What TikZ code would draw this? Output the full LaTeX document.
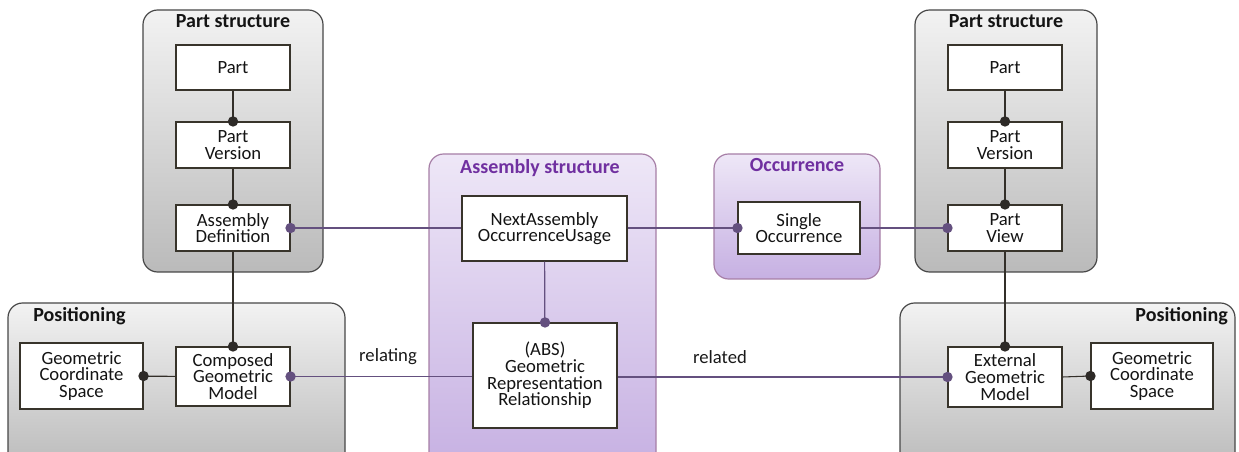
\documentclass[tikz,border=0pt]{standalone}
\usepackage{fontspec}
\setmainfont{Carlito}
\begin{document}
\begin{tikzpicture}[x=0.75pt,y=-0.75pt,
  grayc/.style={draw=black!72, line width=0.9pt, rounded corners=11pt, top color=black!5, bottom color=black!27},
  purpc/.style={draw=violet!45!gray!70, line width=0.9pt, rounded corners=11pt, top color=purpleA, bottom color=purpleB},
  bx/.style={draw=black!80!olive, line width=0.8pt, fill=white, inner sep=0pt, align=center, text=black!92,
    font=\fontsize{14}{12.5}\selectfont},
  ttl/.style={font=\fontsize{15}{15}\bfseries\selectfont, text=black!92, inner sep=0pt},
  pttl/.style={font=\fontsize{15}{15}\bfseries\selectfont, text=titlepurple, inner sep=0pt},
  lbl/.style={font=\fontsize{14}{14}\selectfont, text=black!90, inner sep=0pt},
  bl/.style={draw=black!85!olive, line width=0.8pt},
  pl/.style={draw=linepurple, line width=0.9pt},
  bdot/.style={fill=black!90!olive},
  pdot/.style={fill=linepurple}
]
\definecolor{purpleA}{HTML}{EEE7F7}
\definecolor{purpleB}{HTML}{C6B0E2}
\definecolor{titlepurple}{HTML}{7030A0}
\definecolor{linepurple}{HTML}{64507F}
\useasboundingbox (0,0) rectangle (1239,452);
\clip (0,0) rectangle (1239,452);

% containers
\draw[grayc] (143,10) rectangle (323,272);
\draw[grayc] (915,10) rectangle (1097,272);
\draw[grayc] (8,303) rectangle (345,470);
\draw[grayc] (900,303) rectangle (1235,470);
\draw[purpc] (429,154) rectangle (656,470);
\draw[purpc] (714,154) rectangle (880,279);

% titles
\node[ttl, anchor=base] (t1) at (233,28) {Part structure};
\node[ttl, anchor=base] (t2) at (1006,28) {Part structure};
\node[ttl, anchor=base west] (t3) at (33,322) {Positioning};
\node[ttl, anchor=base east] (t4) at (1228,322) {Positioning};
\node[pttl, anchor=base] (t5) at (540,174) {Assembly structure};
\node[pttl, anchor=base] (t6) at (797,172) {Occurrence};

% boxes
\node[bx, minimum width=85.5pt, minimum height=33.75pt] (partL) at (233,67.5) {Part};
\node[bx, minimum width=85.5pt, minimum height=34.5pt] (pvL) at (233,145) {Part\\Version};
\node[bx, minimum width=85.5pt, minimum height=34.5pt] (adL) at (233,228) {Assembly\\Definition};
\node[bx, minimum width=92.25pt, minimum height=49.5pt] (gcsL) at (81.5,376) {Geometric\\Coordinate\\Space};
\node[bx, minimum width=85.5pt, minimum height=44.25pt] (cgm) at (233,376.5) {Composed\\Geometric\\Model};
\node[bx, minimum width=123.75pt, minimum height=48.75pt] (naou) at (544.5,228.5) {NextAssembly\\OccurrenceUsage};
\node[bx, minimum width=108pt, minimum height=78.75pt] (abs) at (545,375.5) {(ABS)\\Geometric\\Representation\\Relationship};
\node[bx, minimum width=91.5pt, minimum height=39pt] (so) at (799,228) {Single\\Occurrence};
\node[bx, minimum width=85.5pt, minimum height=33.75pt] (partR) at (1005,67.5) {Part};
\node[bx, minimum width=85.5pt, minimum height=34.5pt] (pvR) at (1005,145) {Part\\Version};
\node[bx, minimum width=85.5pt, minimum height=34.5pt] (pview) at (1005,228) {Part\\View};
\node[bx, minimum width=85.5pt, minimum height=45pt] (egm) at (1005,377) {External\\Geometric\\Model};
\node[bx, minimum width=91.5pt, minimum height=49.5pt] (gcsR) at (1152,376) {Geometric\\Coordinate\\Space};

% labels
\node[lbl] (l1) at (388,357) {relating};
\node[lbl] (l2) at (720,357) {related};

% connectors
\draw[bl] (partL) -- (pvL);
\draw[bl] (pvL) -- (adL);
\draw[bl] (adL) -- (cgm);
\draw[bl] (cgm) -- (gcsL);
\draw[bl] (partR) -- (pvR);
\draw[bl] (pvR) -- (pview);
\draw[bl] (pview) -- (egm);
\draw[bl] (egm.east) -- (gcsR.west);
\draw[pl] (adL.east) -- (naou.west |- adL.east);
\draw[pl] (naou.east |- so.west) -- (so.west);
\draw[pl] (so.east) -- (pview.west);
\draw[pl] (naou) -- (abs);
\draw[pl] (cgm.east) -- (abs.west |- cgm.east);
\draw[pl] (abs.east |- egm.west) -- (egm.west);

% dots
\fill[bdot] (pvL.north) circle (3.9pt);
\fill[bdot] (adL.north) circle (3.9pt);
\fill[bdot] (cgm.north) circle (3.9pt);
\fill[bdot] (gcsL.east) circle (3.9pt);
\fill[bdot] (pvR.north) circle (3.9pt);
\fill[bdot] (pview.north) circle (3.9pt);
\fill[bdot] (egm.north) circle (3.9pt);
\fill[bdot] (gcsR.west) circle (3.9pt);
\fill[pdot] (adL.east) circle (3.9pt);
\fill[pdot] (so.west) circle (3.9pt);
\fill[pdot] (pview.west) circle (3.9pt);
\fill[pdot] (abs.north) circle (3.9pt);
\fill[pdot] (cgm.east) circle (3.9pt);
\fill[pdot] (egm.west) circle (3.9pt);
\end{tikzpicture}
\end{document}
